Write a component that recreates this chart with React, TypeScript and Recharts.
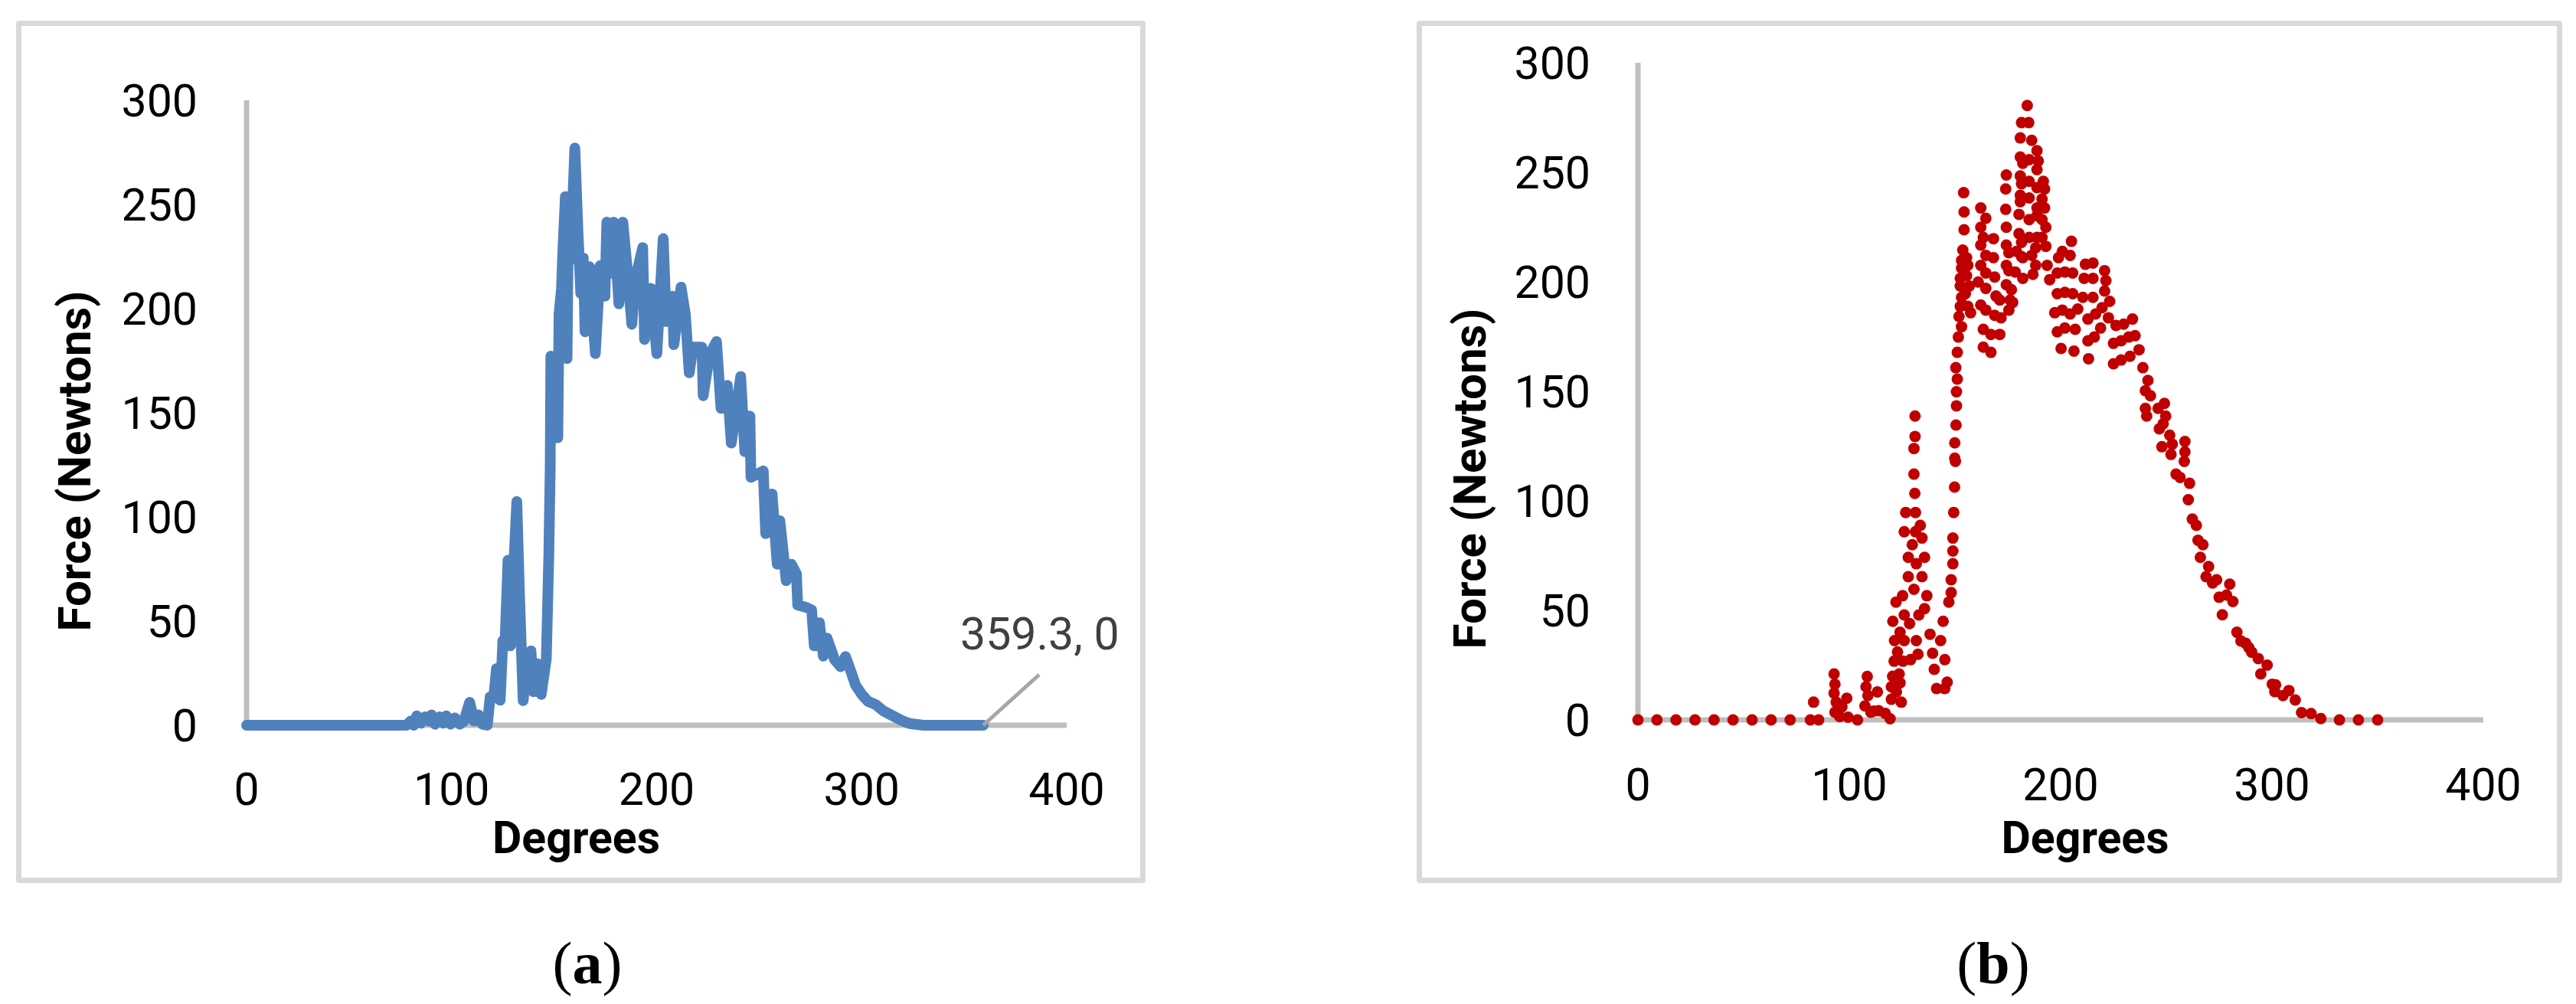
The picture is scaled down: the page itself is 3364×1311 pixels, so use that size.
import React from 'react';
import { LineChart, Line, XAxis, YAxis, ScatterChart, Scatter, LabelList, Label } from 'recharts';

// ---------- Data ----------
const xTicks = [0, 100, 200, 300, 400];
const yTicks = [0, 50, 100, 150, 200, 250, 300];
const xTitle = 'Degrees';
const yTitle = 'Force (Newtons)';
const captionA = 'a';
const captionB = 'b';

// Panel (a): force vs crank angle, line
const degA = [
  0, 78, 80, 81.5, 83, 85, 87, 88.9, 90.2, 92,
  94, 96, 97.4, 99.5, 101.6, 104, 106, 108.8, 111, 113.1,
  115, 117.4, 118.8, 120.5, 121.9, 123.7, 125, 126, 127.5, 128.7,
  130, 131.8, 133.2, 134.9, 136.8, 138.7, 139.9, 141.8, 143.7, 146.2,
  147.4, 148.1, 148.4, 150, 151.8, 152.4, 153.6, 154.2, 155.5, 156.3, 157.1,
  158, 160.1, 161.7, 163, 164.2, 165.1, 167.3, 170.1, 172.5, 174.8,
  175.7, 177.5, 179.1, 181.6, 183.5, 185.4, 187.9, 189.7, 193.2, 194.1,
  197.2, 200.1, 203.2, 204.7, 207.8, 208.4, 211.9, 214, 215.9, 217.7,
  222.1, 222.7, 225.8, 229.2, 231.4, 234.5, 236.4, 241, 243, 245.5,
  246, 252, 253.2, 256.3, 258.8, 260.1, 263.2, 265.7, 268.2, 268.8,
  273.1, 275.6, 276.9, 279.4, 281.3, 283.1, 286.8, 289.7, 292.1, 294.9,
  297, 300.2, 303.1, 306.9, 310.4, 315.2, 319.3, 323.3, 330, 359.3,
];
const forceA = [
  0, 0, 2, 0, 4.5, 1, 4, 2, 5, 0.5,
  4, 1, 4.5, 0.5, 3.5, 0.5, 2, 11, 2, 5,
  0.5, 0, 13.6, 13, 27.2, 12, 40.6, 38, 79.2, 38.1,
  70, 107.4, 60, 11.8, 30, 35.7, 16.1, 29.5, 14.8, 32,
  81, 124, 177.2, 160, 138, 197.4, 209.7, 226.8, 253.8, 176, 253.8,
  223.2, 277.1, 235.4, 207.2, 224.4, 188.9, 220.1, 178.4, 220.7, 206,
  241.5, 217, 241.5, 202.3, 241.5, 221.9, 192.5, 214.6, 229.3, 185.2,
  209.7, 178.4, 233.6, 193.8, 206, 182.7, 210.3, 197.4, 169.2, 181.5,
  181.5, 158.2, 177.8, 184.2, 152.1, 163.1, 135.5, 167.4, 131.3, 148.4,
  119, 122.1, 92, 111, 77.3, 98.2, 69.4, 77.3, 72.7, 57.7,
  56.5, 55.3, 38.1, 49.2, 33.2, 41.8, 31.5, 28.1, 33, 25.4,
  19.3, 14.6, 11.5, 9.9, 7, 4.5, 2.4, 0.8, 0, 0,
];

// Panel (b): force vs crank angle, scatter
const degB = [
  0, 9, 18, 27, 36, 45, 54, 63, 72, 81.6, 83.1, 85.5,
  92.8, 93.2, 92.8, 93.8, 93.2, 94.4, 95.5, 96.5, 98.8, 99.4, 103.9, 107.4, 107.9, 108.5, 108.8, 110.2, 111.5, 113.3, 113.9, 117, 119.3, 119.9, 119.9, 120.5,
  121.2, 122.3, 123.6, 124, 124.6, 125.4, 120.6, 121.4, 122.1, 122.8, 124, 125.2, 126, 126, 126.7, 126, 127.9, 127.9, 128.5, 129, 129.8, 130.6, 130.6, 130.6, 131.1, 131.1, 131.3, 131.3, 131, 131.7, 131.7, 132.9, 133.6, 134.4, 134.4, 135.6, 135.6, 136.7, 132.5,
  138.2, 139.4, 140.2, 141.3, 143.2, 144.4, 145.2, 146.3, 145.2, 147.1, 148.2, 148.2, 149, 149, 149, 149.4, 149.8, 150.2,
  149.9, 149.9, 150.5, 150.7, 150.7, 151.1, 150.4, 151.1, 151.6, 153.1, 151.9, 152.5, 153.1, 152.5, 152.5, 153.1, 153.1, 153.7, 154.3, 154.3, 154.1, 155.5, 156.1, 155.5, 156.8, 154.9, 156.1, 157.4,
  162.2, 164.6, 162.2, 163.4, 168.2, 162.2, 164.6, 168.2, 162.2, 164.6, 168.8, 161, 164.6, 169.4, 171.2, 162.2, 164.6, 168.8, 171.8, 163.4, 167, 171.2, 163.4, 167,
  174.3, 174, 174, 174.3, 174.3, 175.5, 179.1, 181.5, 174.3, 175.5, 178.5, 182.1, 174.3, 176.7, 176.1, 177.3, 175.5,
  184.2, 181.5, 184.9, 180.9, 186.3, 188.8, 180.9, 185.1, 189.4, 182.1, 188.8, 180.9, 185.1, 191.8, 181.5, 188.8, 192.4, 180.9, 185.1, 191.2, 180.9, 188.8, 192.4, 180.3, 185.1, 188.8, 191.2, 193, 180.3, 185.1, 188.8, 191.2, 181.5, 188.2, 193, 182.1, 186.3, 188.2, 186.9, 193.6,
  205.1, 200.8, 204.5, 199, 194.8, 198.4, 202, 205.7, 198.4, 202, 205.7, 197.2, 200.8, 204.5, 208.1, 198.4, 202, 206.9, 200.2, 206.3,
  211.7, 215.3, 211.1, 215.3, 210.5, 215.3, 212.9, 216.5, 218.9, 212.9, 215.9, 213.2,
  220.8, 221.4, 220.8, 223.2, 219.6, 222.6, 226.2, 229.8, 234, 225, 228.6, 232.2, 235.2, 225, 228.6, 232.8, 237.1,
  238.9, 241.3, 240.1, 242.5, 240.1, 240.7, 246.1, 249.1, 249.7, 248.5, 246.7, 251.6, 252.8, 247.9, 252.2, 258.8, 258.8,
  254.6, 256.5, 258.5, 260.4, 261, 262.3, 264.2, 265, 266.1, 267.3, 268.8, 270, 271.9,
  273.8, 275, 276.5, 278.5, 280, 281.5, 283.4, 285.3, 287.5, 289,
  290.4, 293.5, 294.7, 297.7, 300.1, 301.7, 301.3, 305.2, 308, 311, 314, 318.5, 323.1, 331.9, 340.9, 350,
];
const forceB = [
  0, 0, 0, 0, 0, 0, 0, 0, 0, 0, 8.1, 0,
  21, 16.3, 12.2, 8.1, 3.5, 3.5, 1.5, 6, 9.9, 1.2, 0, 6.4, 15.1, 19.8, 11.1, 3.5, 4, 12.8, 4.2, 3, 0.5, 9.4, 15.1, 19.9,
  26.8, 12.8, 21, 16.9, 8.1, 26.8, 45, 36.2, 53.8, 31, 40, 56.7, 47.9, 36.2, 94.7, 85.9, 74.2, 65.4, 44, 27.5, 80, 59.6, 112.2, 123.9, 138.7, 129.4, 94.7, 85.9, 103.4, 71.3, 36.2, 47.9, 88.8, 83, 65.4, 74.2, 50.8, 56.7, 30,
  39.1, 30.4, 23.1, 14.3, 36.2, 45, 27.5, 17.2, 14.3, 53.8, 58.1, 64, 71.3, 77.1, 83, 94.7, 106.3, 118,
  119.5, 126.5, 134.6, 143.4, 149.8, 155.6, 160.8, 167.8, 174.8, 179.5, 184.2, 188.8, 192.9, 198.1, 201.6, 206.3, 209.8, 214.5, 223.8, 231.9, 240.7, 211, 207.5, 202.8, 198.1, 194.6, 188.8, 185.9,
  233.7, 229, 224.9, 220.3, 219.7, 216.8, 212.1, 211, 207.5, 204, 202.2, 199.9, 197, 193.5, 191.7, 189.4, 187.1, 184.7, 183.6, 178.3, 176, 176, 170.2, 167.8,
  248.8, 242.4, 233.1, 224.9, 216.8, 213.3, 213.9, 211.5, 207.5, 205.1, 204.5, 201.6, 198.7, 196.4, 191.7, 190.6, 187.1,
  280.5, 272.7, 272.7, 265.7, 264.6, 259.9, 257, 255.8, 255.2, 254.1, 251.2, 248.3, 245.9, 245.9, 244.8, 243, 242.4, 239.5, 238.3, 237.8, 236.6, 233.7, 233.7, 230.8, 228.4, 230.2, 228.4, 224.9, 222, 220.3, 220.3, 220.3, 218, 215.6, 216.2, 211, 212.1, 207.5, 203.4, 207.5,
  218.5, 213.9, 212.1, 211, 201, 204, 204.5, 204, 194.6, 195.2, 194.6, 185.9, 187.1, 185.3, 187.6, 177.2, 178.9, 178.3, 169.6, 168.4,
  208, 208.6, 201.6, 201.6, 192.9, 192.9, 183, 185.3, 178.9, 173.1, 174.8, 164.9,
  205.1, 200.5, 195.8, 191.1, 188.2, 183.6, 180.1, 180.7, 183, 171.9, 173.1, 174.8, 175.4, 162.6, 164.3, 166, 169,
  160.8, 155, 150.3, 148, 142.2, 138.7, 142.2, 144.5, 138.7, 135.2, 132.9, 130, 125.9, 124.7, 121.2, 127.1, 122.4,
  112.2, 110.7, 118, 100.5, 108, 91.7, 88.8, 82, 74.2, 80, 65.4, 70, 62.5,
  64, 56, 48, 57, 62, 54, 40, 36, 35, 33,
  30.9, 28, 21, 25, 16.3, 16, 12.9, 11.1, 13.4, 9.1, 3.3, 2.9, 0.6, 0, 0, 0,
];

const dataA = degA.map((d, i) => ({ deg: d, force: forceA[i] }));
const dataB = degB.map((d, i) => ({ deg: d, force: forceB[i] }));
const lastA = degA.length - 1;
const annotationText = `${degA[lastA]}, ${forceA[lastA]}`;

// ---------- Styles ----------
const FONT = 'Roboto, "Noto Sans", sans-serif';
const SERIF = '"Liberation Serif", "DejaVu Serif", serif';
const tickStyle = { fill: '#000000', fontSize: 59, fontFamily: FONT };
const axisLineStyle = { stroke: '#bfbfbf', strokeWidth: 7 };
const BLUE = '#4f81bd';
const RED = '#c00000';

const makeXTitle = (dx: number, dy: number) => (props: any) => {
  const vb = props.viewBox || {};
  const x = vb.x + vb.width / 2 + dx;
  const y = vb.y + dy;
  return (
    <text x={x} y={y} textAnchor="middle" fontFamily={FONT} fontWeight="bold" fontSize={59} fill="#000">
      {xTitle}
    </text>
  );
};

const makeYTitle = (dx: number, dy: number) => (props: any) => {
  const vb = props.viewBox || {};
  const x = vb.x + dx;
  const y = vb.y + vb.height / 2 + dy;
  return (
    <text x={x} y={y} transform={`rotate(-90 ${x} ${y})`} textAnchor="middle" fontFamily={FONT} fontWeight="bold" fontSize={60} fill="#000">
      {yTitle}
    </text>
  );
};

const renderAnnotation = (props: any) => {
  if (props.index !== lastA) return null;
  const vb = props.viewBox || {};
  const x = vb.x !== undefined ? vb.x : props.x;
  const y = vb.y !== undefined ? vb.y : props.y;
  return (
    <g>
      <line x1={x} y1={y} x2={x + 73} y2={y - 66} stroke="#a6a6a6" strokeWidth={5} />
      <text x={x - 30} y={y - 99} fill="#404040" fontSize={59} fontFamily={FONT}>
        {annotationText}
      </text>
    </g>
  );
};

const renderDot = (p: any) => <circle cx={p.cx} cy={p.cy} r={7.5} fill={RED} />;

const frameStyle = (left: number, width: number): React.CSSProperties => ({
  position: 'absolute',
  left,
  top: 27,
  width,
  height: 1126,
  border: '7px solid #d9d9d9',
  boxSizing: 'border-box',
  borderRadius: 4,
});

export default function App() {
  return (
    <div style={{ position: 'absolute', left: 0, top: 0, width: 3364, height: 1311, background: '#fff', overflow: 'hidden' }}>
      <div style={frameStyle(21, 1475)} />
      <div style={frameStyle(1850, 1496)} />

      {/* Panel (a) */}
      <div style={{ position: 'absolute', left: 0, top: 0 }}>
        <LineChart width={1500} height={1160} data={dataA} margin={{ top: 131, right: 107, bottom: 113, left: 222 }}>
          <XAxis
            type="number"
            dataKey="deg"
            domain={[0, 400]}
            ticks={xTicks}
            interval={0}
            tickLine={false}
            tickSize={0}
            tickMargin={62}
            axisLine={axisLineStyle}
            tick={tickStyle}
            height={100}
            zIndex={100}
          >
            <Label content={makeXTitle(-105, 167)} />
          </XAxis>
          <YAxis
            type="number"
            domain={[0, 300]}
            ticks={yTicks}
            interval={0}
            tickLine={false}
            tickSize={0}
            tickMargin={64}
            axisLine={axisLineStyle}
            tick={tickStyle}
            width={100}
            zIndex={100}
          >
            <Label content={makeYTitle(-104, 63)} />
          </YAxis>
          <Line
            type="linear"
            dataKey="force"
            stroke={BLUE}
            strokeWidth={14}
            strokeLinejoin="round"
            strokeLinecap="round"
            dot={false}
            activeDot={false}
            isAnimationActive={false}
            zIndex={800}
          >
            <LabelList dataKey="force" content={renderAnnotation} />
          </Line>
        </LineChart>
      </div>

      {/* Panel (b) */}
      <div style={{ position: 'absolute', left: 1700, top: 0 }}>
        <ScatterChart width={1664} height={1160} margin={{ top: 82, right: 121, bottom: 120, left: 339 }}>
          <XAxis
            type="number"
            dataKey="deg"
            domain={[0, 400]}
            ticks={xTicks}
            interval={0}
            tickLine={false}
            tickSize={0}
            tickMargin={63}
            axisLine={axisLineStyle}
            tick={tickStyle}
            height={100}
          >
            <Label content={makeXTitle(32, 174)} />
          </XAxis>
          <YAxis
            type="number"
            dataKey="force"
            domain={[0, 300]}
            ticks={yTicks}
            interval={0}
            tickLine={false}
            tickSize={0}
            tickMargin={62}
            axisLine={axisLineStyle}
            tick={tickStyle}
            width={100}
          >
            <Label content={makeYTitle(-99, 114)} />
          </YAxis>
          <Scatter data={dataB} fill={RED} shape={renderDot} isAnimationActive={false} />
        </ScatterChart>
      </div>

      {/* Captions */}
      <svg width={3364} height={1311} style={{ position: 'absolute', left: 0, top: 0, pointerEvents: 'none' }}>
        <text x={767} y={1284} textAnchor="middle" fontFamily={SERIF} fontSize={78} fill="#000">
          (<tspan fontWeight="bold">{captionA}</tspan>)
        </text>
        <text x={2603} y={1284} textAnchor="middle" fontFamily={SERIF} fontSize={78} fill="#000">
          (<tspan fontWeight="bold">{captionB}</tspan>)
        </text>
      </svg>
    </div>
  );
}
